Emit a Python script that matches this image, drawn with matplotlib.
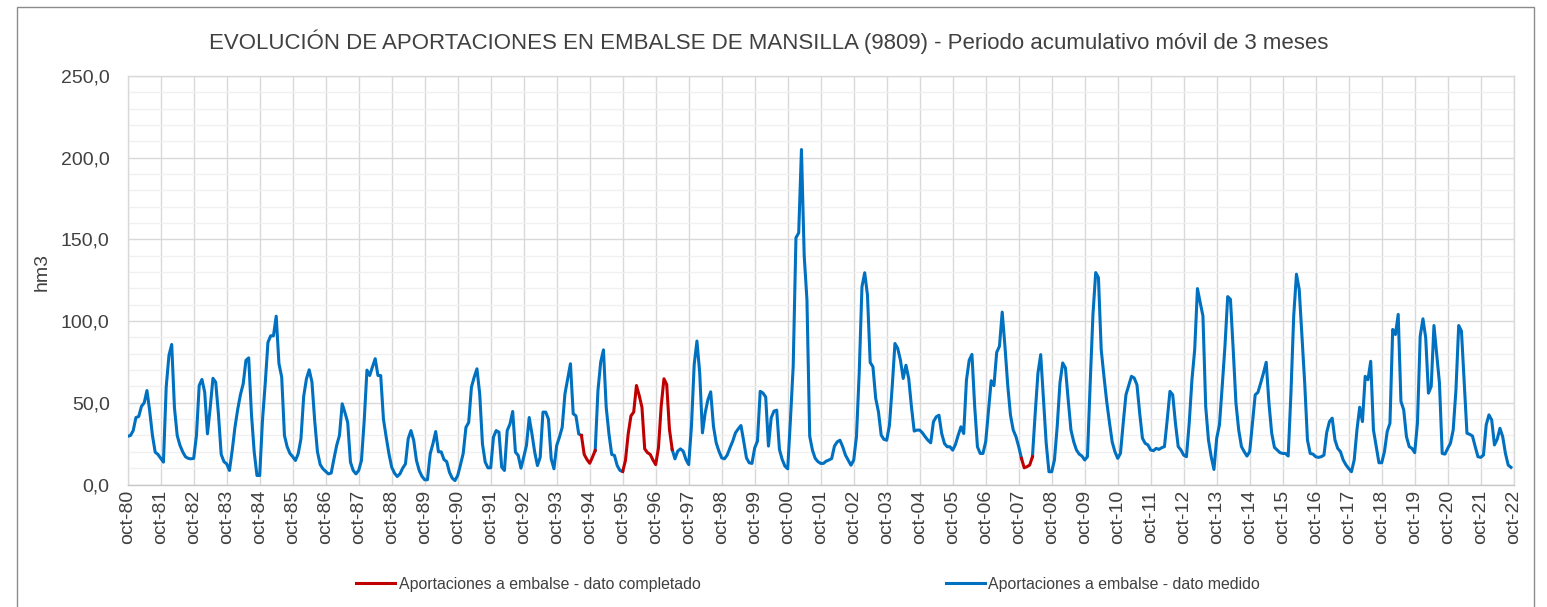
import numpy as np
import matplotlib.pyplot as plt
from matplotlib.lines import Line2D
from matplotlib.patches import Rectangle
from matplotlib.ticker import FuncFormatter, MultipleLocator

plt.rcParams['font.family'] = ['Liberation Sans', 'DejaVu Sans']

# Aportaciones (hm3), acumulado movil 3 meses, una fila por año hidrologico (oct -> sep)
aportaciones = [
    29.5, 30, 33, 41, 41.6, 47.8, 50, 57.5, 45, 30, 19.8, 18.4,           # 80-81
    16, 13.7, 59.6, 79, 85.7, 47, 30, 24, 20, 17, 16, 15.7,                # 81-82
    16, 30, 60.6, 64.3, 56.5, 31, 47, 65, 62.6, 43, 18.4, 14,              # 82-83
    12.6, 8.6, 20.8, 35, 46, 55, 61.6, 76, 77.5, 43, 20, 5.5,              # 83-84
    5.5, 39, 61.6, 87, 91, 91, 103, 74, 65.7, 30, 23, 19,                  # 84-85
    17, 14.7, 18.8, 28, 54, 64.7, 70.2, 62.7, 39, 20, 12.2, 9.6,           # 85-86
    8, 6.5, 7, 15.7, 24, 30, 49.4, 44, 38, 13.7, 8.6, 6.5,                 # 86-87
    8.6, 14.7, 39, 70, 66.7, 72, 77, 66.7, 66.7, 40, 29, 18.8,             # 87-88
    10.6, 7, 4.9, 6.5, 10, 12.6, 28, 33, 27, 14.7, 8.6, 5,                 # 88-89
    2.9, 2.9, 18.8, 25, 32.4, 20, 20, 15.3, 14, 7.5, 3.9, 2.4,             # 89-90
    5.5, 12, 19, 35, 38, 59.6, 65.7, 70.8, 55.5, 24.9, 13.7, 10.2,         # 90-91
    10.2, 29, 33, 32, 10.6, 8.6, 33, 37, 44.7, 19.8, 17.8, 10,             # 91-92
    16.7, 23.9, 41, 31, 19.8, 11.6, 16.7, 44.3, 44.3, 40, 15.7, 9.6,       # 92-93
    23.9, 29, 35, 55.5, 64.7, 73.9, 43.3, 42, 31, 30, 18.4, 15.3,          # 93-94
    13, 16.7, 20.8, 57.5, 74.9, 82.4, 47.3, 31, 18.4, 17.8, 11.6, 8.6,     # 94-95
    8, 14.7, 31, 42, 44.3, 60.6, 54.5, 47.3, 21.8, 19.5, 18.4, 15,         # 95-96
    12.2, 22.4, 48, 64.7, 61.2, 33.7, 21.4, 15.7, 20.4, 21.8, 20.4, 15.3,  # 96-97
    12.2, 35.7, 73.5, 87.8, 68.4, 31.6, 43.9, 52, 56.7, 35.7, 25.5, 20.4,  # 97-98
    16.3, 15.7, 18, 22.4, 26.5, 31.6, 34, 36.1, 26.5, 16.3, 13.3, 12.9,    # 98-99
    22.4, 26.5, 57, 56, 53.5, 23.5, 40.8, 44.9, 45.5, 21.4, 15.3, 11.2,    # 99-00
    9.6, 39.8, 72.4, 151, 154, 205, 140, 113, 29.6, 21, 16, 14,            # 00-01
    12.9, 12.9, 14.3, 15, 15.9, 23.5, 26.1, 27.1, 23.1, 18, 14.9, 11.8,    # 01-02
    14.9, 29.2, 68, 121, 129.6, 116, 74.7, 72, 52.7, 44.5, 30.2, 27.6,     # 02-03
    27.1, 36.3, 59.8, 86.3, 83.3, 76.1, 64.9, 73, 64.9, 47.6, 32.7, 33.3,  # 03-04
    33.3, 31.6, 29.2, 27.1, 25.5, 38.4, 41.4, 42.4, 31.2, 25.1, 23.1, 23.1,  # 04-05
    21, 24.5, 30.2, 35.3, 31.2, 63.9, 76.1, 79.6, 47.6, 23.1, 19, 19,      # 05-06
    26.2, 45, 63.5, 60.5, 80.9, 84.6, 105.5, 84.6, 61, 42.6, 33.4, 29.3,   # 06-07
    23.2, 16, 10.2, 10.9, 11.9, 17, 43.6, 68.2, 79.5, 51.8, 25.2, 7.8,     # 07-08
    7.8, 15, 35.5, 62.1, 74.4, 71.3, 51.8, 33.4, 26.2, 21.1, 18.6, 17.4,   # 08-09
    15, 17, 62.1, 104, 129.7, 126.6, 82.6, 66.2, 50.8, 38, 26, 20,        # 09-10
    16, 19, 37.5, 54.9, 60.5, 66.2, 65.2, 61, 43.6, 28.3, 25.2, 24.2,      # 10-11
    21.1, 20.7, 22.1, 21.5, 22.5, 23.2, 39.5, 57, 54.9, 37.5, 23.2, 21.1,  # 11-12
    18, 17, 37.5, 64.1, 82.6, 119.9, 111.3, 103.1, 47.7, 27.3, 17, 9.2,    # 12-13
    28.3, 36.5, 60, 84.6, 115, 113.3, 82.6, 49.8, 33.4, 23.2, 20.1, 17.4,  # 13-14
    20.1, 37.5, 54.9, 56.4, 62.1, 68.2, 74.8, 49.8, 31.4, 22.7, 21.1, 19.5,  # 14-15
    19, 19, 17.4, 56, 103, 128.7, 119.5, 90.8, 62.1, 27.3, 19, 18.6,       # 15-16
    17, 16.6, 17, 18, 31.8, 38.5, 40.6, 27.3, 22.1, 20.1, 15, 12,          # 16-17
    9.8, 7.8, 15, 33.4, 47.3, 38.5, 66.2, 64.1, 75.4, 33.4, 23.2, 13.3,    # 17-18
    13.3, 20.1, 32.4, 37.5, 94.9, 91.8, 104.1, 50.8, 45.7, 29.3, 23.2, 22.1,  # 18-19
    19.5, 37.5, 90.8, 101.4, 89.8, 55.9, 60, 97.3, 79.5, 62.1, 19, 18.6,   # 19-20
    22.1, 25.2, 33.4, 58, 97.3, 93.9, 62.1, 31.4, 30.7, 29.7, 23.2, 17,    # 20-21
    16.6, 18, 36.5, 42.6, 39.5, 24.2, 27.7, 34.4, 29.3, 19, 11.9, 10.5,    # 21-22
]

# tramos (indice de mes inicial, final) con dato completado
tramos_completados = [(165, 170), (180, 198), (325, 329)]

etiquetas_x = ['oct-%02d' % (a % 100) for a in range(1980, 2023)]

titulo = ('EVOLUCIÓN DE APORTACIONES EN EMBALSE DE MANSILLA (9809) - '
          'Periodo acumulativo móvil de 3 meses')

valores = np.array(aportaciones, dtype=float)
meses = np.arange(len(valores))

medido = valores.copy()
completado = np.full_like(valores, np.nan)
for ini, fin in tramos_completados:
    medido[ini + 1:fin] = np.nan
    completado[ini:fin + 1] = valores[ini:fin + 1]

W, H = 1547, 607
fig = plt.figure(figsize=(W / 100, H / 100), dpi=100)
ax = fig.add_axes([127.7 / W, 1 - 484.5 / H, (1513.7 - 127.7) / W, (484.5 - 76) / H])

azul = '#0070C0'
rojo = '#C00000'
texto = '#404040'

ax.plot(meses, medido, color=azul, lw=2.2, solid_joinstyle='round', zorder=3)
ax.plot(meses, completado, color=rojo, lw=2.2, solid_joinstyle='round', zorder=4)

ax.set_xlim(0, 12 * (len(etiquetas_x) - 1))
ax.set_ylim(0, 250)

ax.yaxis.set_major_locator(MultipleLocator(50))
ax.yaxis.set_minor_locator(MultipleLocator(10))
ax.yaxis.set_major_formatter(FuncFormatter(lambda v, p: ('%.1f' % v).replace('.', ',')))
ax.set_xticks(np.arange(0, 12 * len(etiquetas_x), 12))
ax.set_xticklabels(etiquetas_x, rotation=90, va='top', ha='center')

ax.grid(which='minor', axis='y', color='#F0F0F0', lw=1.0, zorder=0)
ax.grid(which='major', axis='both', color='#D9D9D9', lw=1.0, zorder=1)
ax.set_axisbelow(True)

for lado in ['top', 'left', 'right']:
    ax.spines[lado].set_color('#D9D9D9')
    ax.spines[lado].set_linewidth(1.0)
ax.spines['bottom'].set_color('#C8C8C8')
ax.spines['bottom'].set_linewidth(1.0)

ax.tick_params(axis='both', which='both', length=0, labelsize=14, labelcolor=texto)
ax.tick_params(axis='y', pad=13)
ax.tick_params(axis='x', pad=4)

fig.text(0.497, 1 - 42 / H, titulo, ha='center', va='center', fontsize=16, color=texto)
fig.text(42 / W, 1 - 272 / H, 'hm3', rotation=90, ha='center', va='center',
         fontsize=14, color=texto)

handles = [Line2D([], [], color=rojo, lw=2.2), Line2D([], [], color=azul, lw=2.2)]
fig.legend(handles,
           ['Aportaciones a embalse - dato completado', 'Aportaciones a embalse - dato medido'],
           loc='center', bbox_to_anchor=(808 / W, 1 - 584 / H), ncol=2, frameon=False,
           fontsize=11.4, handlelength=2.5, handletextpad=0.2, columnspacing=15.5,
           labelcolor=texto)

fig.add_artist(Rectangle((17 / W, -0.05), (1534 - 17) / W, 1.05 - 7 / H,
                         transform=fig.transFigure, fill=False,
                         edgecolor='#8C8C8C', lw=1.0))

fig.savefig('out.png', dpi=100)
